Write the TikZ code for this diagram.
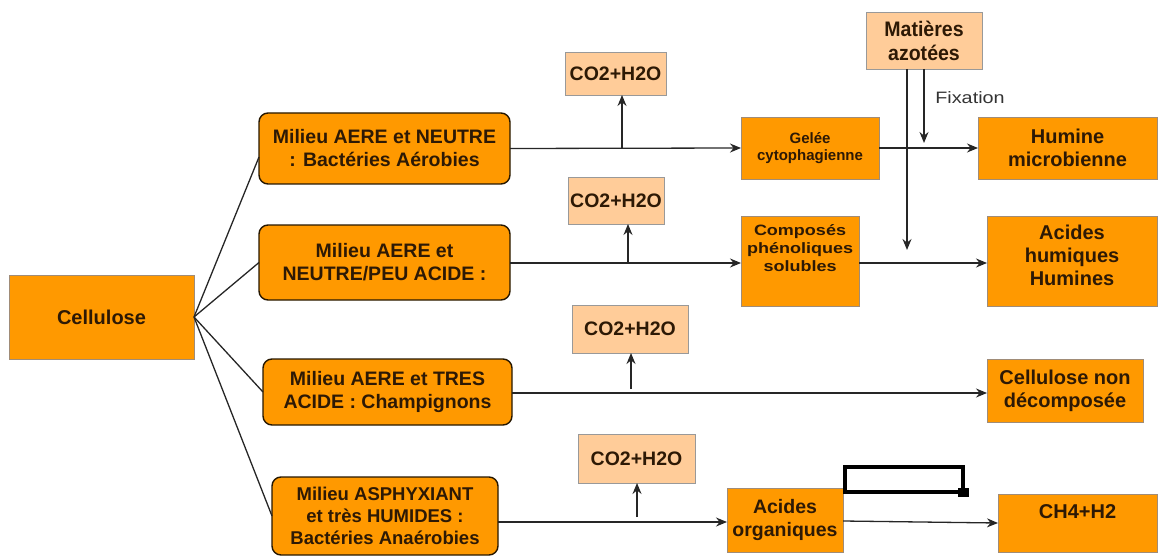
\documentclass[tikz,border=0pt]{standalone}
\usepackage{fontspec}
\setmainfont{Liberation Sans}
\newfontfamily\condfont[FakeStretch=0.93]{Liberation Sans}
\newfontfamily\widefont[FakeStretch=1.2]{Liberation Sans}
\usetikzlibrary{arrows.meta}
\definecolor{orng}{RGB}{255,153,0}
\definecolor{peach}{RGB}{255,204,153}
\definecolor{txt}{RGB}{45,25,5}
\definecolor{edgegrey}{RGB}{160,140,120}
\tikzset{
  every node/.style={inner sep=0pt, outer sep=0pt, text=txt, align=center},
  milieu/.style={draw=black!85!orng, line width=1.4pt, fill=orng, rounded corners=9pt, font=\bfseries\fontsize{19.5}{23}\selectfont},
  obox/.style={draw=edgegrey, line width=0.8pt, fill=orng, font=\bfseries\fontsize{20}{23}\selectfont},
  sbox/.style={draw=edgegrey, line width=0.8pt, fill=orng, font=\bfseries\fontsize{15}{17}\selectfont},
  pbox/.style={draw=black!40, line width=0.9pt, fill=peach, font=\bfseries\fontsize{19.5}{22}\selectfont},
  conn/.style={draw=black!85, line width=1.3pt},
  arr/.style={conn, -{Stealth[length=11pt,width=9pt]}}
}
\begin{document}
\begin{tikzpicture}[x=1pt,y=-1pt]
\useasboundingbox (0,0) rectangle (1158,556);
% main nodes
\node[obox, minimum width=185pt, minimum height=84pt] (cell) at (101.5,317) {Cellulose};
\node[milieu, minimum width=251pt, minimum height=71pt] (m1) at (384.5,148.5) {Milieu AERE et NEUTRE\\: Bactéries Aérobies};
\node[milieu, minimum width=251pt, minimum height=75pt] (m2) at (384.5,262.5) {Milieu AERE et\\NEUTRE/PEU ACIDE :};
\node[milieu, minimum width=249pt, minimum height=66pt] (m3) at (387.5,392) {Milieu AERE et TRES\\ACIDE : Champignons};
\node[milieu, minimum width=226pt, minimum height=78pt, font=\bfseries\fontsize{18.5}{22}\selectfont] (m4) at (385,516) {Milieu ASPHYXIANT\\et très HUMIDES :\\Bactéries Anaérobies};
% CO2 boxes
\node[pbox, minimum width=101pt, minimum height=43pt] (co1) at (615.5,73.5) {CO2+H2O};
\node[pbox, minimum width=96pt, minimum height=47pt] (co2) at (616,200.5) {CO2+H2O};
\node[pbox, minimum width=116pt, minimum height=48pt] (co3) at (630,329) {CO2+H2O};
\node[pbox, minimum width=117pt, minimum height=49pt] (co4) at (636.5,458.5) {CO2+H2O};
% intermediate / products
\node[sbox, minimum width=138pt, minimum height=62pt] (gel) at (810,148) {Gelée\\cytophagienne};
\node[sbox, minimum width=118pt, minimum height=90pt, font=\widefont\bfseries\fontsize{15}{18}\selectfont] (comp) at (800,261) {Composés\\phénoliques\\solubles\\[8pt]};
\node[obox, minimum width=179pt, minimum height=62pt] (hum) at (1067.5,148) {Humine\\microbienne};
\node[obox, minimum width=170pt, minimum height=90pt] (ach) at (1072,261) {Acides\\humiques\\Humines\\[-11pt]};
\node[pbox, minimum width=116pt, minimum height=57pt, font=\condfont\bfseries\fontsize{21}{24}\selectfont] (mat) at (924,40.5) {Matières\\azotées};
\node[obox, minimum width=156pt, minimum height=63pt] (cnd) at (1065,390.5) {Cellulose non\\décomposée};
\node[obox, minimum width=116pt, minimum height=64pt, font=\bfseries\fontsize{19.5}{23}\selectfont] (aco) at (785,520) {Acides\\organiques};
\node[obox, minimum width=159pt, minimum height=58pt] (ch4) at (1077.5,523) {CH4+H2\\[-1pt]};
\node[font=\widefont\fontsize{16.5}{18}\selectfont, text=black!80] (fix) at (970,98) {Fixation};
% branches from Cellulose
\draw[conn] (cell.east) -- (m1.west |- 0,157);
\foreach \m in {m2,m3,m4} \draw[conn] (cell.east) -- (\m.west);
% rows
\draw[arr] (m1.east) -- (gel.west);
\draw[arr] (gel.east) -- (hum.west);
\draw[arr] (m2.east |- 0,263) -- (comp.west |- 0,263);
\draw[arr] (comp.east |- 0,263) -- (ach.west |- 0,263);
\draw[arr] (m3.east |- 0,393) -- (cnd.west |- 0,393);
\draw[arr] (m4.east |- 0,522) -- (aco.west |- 0,522);
\draw[arr] (aco.east |- 0,521) -- (ch4.west |- 0,523);
% CO2 arrows
\coordinate (s1) at (622,148);
\coordinate (s2) at (628,262);
\coordinate (s3) at (631,389);
\coordinate (s4) at (637,517);
\draw[arr] (s1) -- (s1 |- co1.south);
\draw[arr] (s2) -- (s2 |- co2.south);
\draw[arr] (s3) -- (s3 |- co3.south);
\draw[arr] (s4) -- (s4 |- co4.south);
% nitrogen arrows
\coordinate (n1) at (907,250);
\coordinate (n2) at (924,143);
\draw[arr] (n1 |- mat.south) -- (n1);
\draw[arr] (n2 |- mat.south) -- (n2);
% odd black bracket shape
\draw[line width=4.5pt, black] (845,467) rectangle (963,492);
\fill[black] (958,487.5) rectangle (969,497);
\end{tikzpicture}
\end{document}
